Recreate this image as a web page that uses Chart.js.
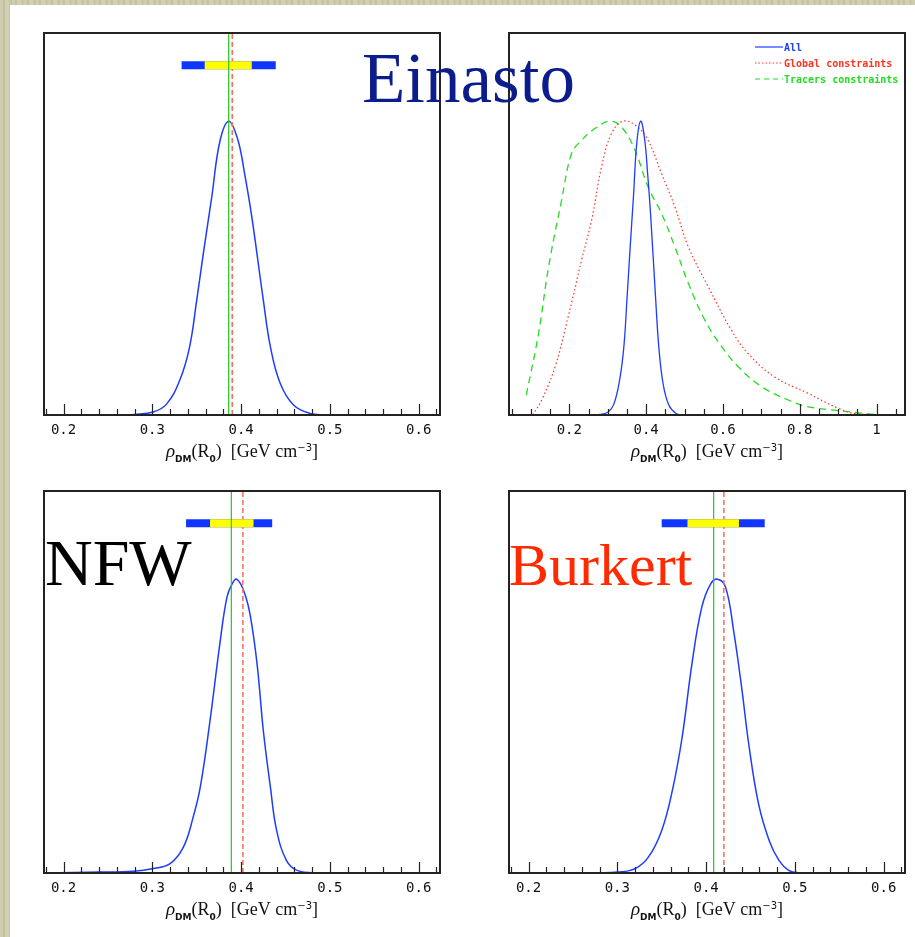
<!DOCTYPE html>
<html>
<head>
<meta charset="utf-8">
<script src="https://cdn.jsdelivr.net/npm/chart.js@4.4.0/dist/chart.umd.min.js"></script>
<style>
  body {
    margin: 0; width: 915px; height: 937px; position: relative; overflow: hidden;
    background: repeating-linear-gradient(90deg, #cfcdb0 0 3px, #c3c19f 3px 5px, #d2d0b4 5px 9px, #c8c6a5 9px 12px);
  }
  #sheet { position: absolute; left: 10px; top: 5px; right: 0; bottom: 0; background: #fff; }
  canvas { position: absolute; }
  .model { position: absolute; font-family: "Liberation Serif", serif; line-height: 1; white-space: nowrap; z-index: 2; }
</style>
</head>
<body>
<div id="sheet"></div>
<canvas id="einasto" width="458" height="470" style="left:0;top:0"></canvas>
<canvas id="compare" width="457" height="470" style="left:458px;top:0"></canvas>
<canvas id="nfw" width="458" height="470" style="left:0;top:458px"></canvas>
<canvas id="burkert" width="457" height="470" style="left:458px;top:458px"></canvas>
<div class="model" style="left:362px;top:43px;font-size:71px;color:#0b1c8c">Einasto</div>
<div class="model" style="left:45px;top:530px;font-size:66px;color:#000">NFW</div>
<div class="model" style="left:509px;top:535px;font-size:60px;color:#ff2a00">Burkert</div>
<script>
// local dark matter density rho_DM(R0) [GeV cm^-3], posteriors normalised to peak = 1

// Einasto, all constraints
const einastoX = [0.18, 0.26, 0.28, 0.301, 0.316, 0.331, 0.342, 0.350, 0.358, 0.367, 0.376, 0.386,
  0.396, 0.404, 0.412, 0.425, 0.433, 0.444, 0.459, 0.478, 0.495, 0.62];
const einastoY = [0, 0, 0.002, 0.01, 0.037, 0.119, 0.232, 0.391, 0.561, 0.743, 0.93, 1.0,
  0.94, 0.82, 0.675, 0.391, 0.232, 0.108, 0.034, 0.005, 0, 0];

// Einasto, global constraints only
const globalX = [0.105, 0.128, 0.163, 0.197, 0.232, 0.258, 0.284, 0.31, 0.34, 0.375, 0.405, 0.44,
  0.475, 0.51, 0.562, 0.622, 0.665, 0.734, 0.821, 0.9, 0.944, 1.03];
const globalY = [0, 0.051, 0.164, 0.334, 0.527, 0.663, 0.845, 0.958, 1.0, 0.983, 0.935, 0.822,
  0.708, 0.572, 0.436, 0.289, 0.21, 0.13, 0.074, 0.023, 0.005, 0];

// Einasto, tracers constraints only
const tracersX = [0.088, 0.12, 0.146, 0.18, 0.206, 0.232, 0.267, 0.306, 0.336, 0.371, 0.405, 0.44,
  0.475, 0.51, 0.553, 0.597, 0.64, 0.701, 0.77, 0.822, 0.9, 0.987, 1.03];
const tracersY = [0.068, 0.278, 0.504, 0.731, 0.89, 0.935, 0.975, 1.0, 0.98, 0.901, 0.776, 0.686,
  0.572, 0.448, 0.323, 0.232, 0.164, 0.096, 0.051, 0.028, 0.015, 0.003, 0];

// NFW
const nfwX = [0.18, 0.241, 0.279, 0.301, 0.32, 0.335, 0.346, 0.354, 0.365, 0.376, 0.384, 0.39,
  0.395, 0.403, 0.41, 0.418, 0.425, 0.433, 0.44, 0.451, 0.463, 0.485, 0.62];
const nfwY = [0, 0.003, 0.006, 0.015, 0.032, 0.088, 0.19, 0.292, 0.519, 0.779, 0.938, 0.985,
  1.0, 0.96, 0.881, 0.711, 0.485, 0.292, 0.145, 0.043, 0.009, 0.001, 0];

// Burkert
const burkertX = [0.18, 0.275, 0.301, 0.32, 0.335, 0.35, 0.362, 0.373, 0.384, 0.395, 0.405, 0.413,
  0.422, 0.431, 0.44, 0.448, 0.459, 0.471, 0.482, 0.493, 0.504, 0.53, 0.62];
const burkertY = [0, 0.001, 0.003, 0.015, 0.054, 0.145, 0.281, 0.462, 0.711, 0.903, 0.983, 1.0,
  0.972, 0.824, 0.632, 0.439, 0.236, 0.111, 0.043, 0.009, 0.001, 0, 0];

// summary per profile: [best fit, mean, 1 sigma lo, 1 sigma hi, 2 sigma lo, 2 sigma hi]
const einastoStats = [0.386, 0.390, 0.359, 0.412, 0.333, 0.439];
const nfwStats = [0.389, 0.402, 0.365, 0.414, 0.338, 0.435];
const burkertStats = [0.4085, 0.420, 0.379, 0.437, 0.350, 0.466];

const narrowTicks = [0.2, 0.3, 0.4, 0.5, 0.6];
const wideTicks = [0.2, 0.4, 0.6, 0.8, 1];

const Y_MAX = 1.3;
const BAND_Y = 1.19;

const curve = (xs, ys) => xs.map((x, i) => ({ x, y: ys[i] }));
const vline = v => [{ x: v, y: 0 }, { x: v, y: Y_MAX }];
const band = (lo, hi) => [{ x: lo, y: BAND_Y }, { x: hi, y: BAND_Y }];

// frame, inward ticks, axis title and the small legend
const panelDecor = {
  id: 'panelDecor',
  afterDraw(chart, args, opts) {
    const { ctx, chartArea: a, scales: { x } } = chart;
    ctx.save();
    ctx.strokeStyle = '#222';
    ctx.lineWidth = 1.2;
    const n = Math.round((opts.tickTo - opts.tickFrom) / opts.minor);
    for (let i = 0; i <= n; i++) {
      const v = opts.tickFrom + i * opts.minor;
      const r = v / opts.major;
      const major = Math.abs(r - Math.round(r)) < 1e-6;
      const px = Math.round(x.getPixelForValue(v)) + 0.5;
      ctx.beginPath();
      ctx.moveTo(px, a.bottom);
      ctx.lineTo(px, a.bottom - (major ? 11 : 6));
      ctx.stroke();
    }
    ctx.lineWidth = 2;
    ctx.strokeRect(a.left, a.top, a.right - a.left, a.bottom - a.top);

    // rho_DM(R_0) [GeV cm^-3]
    const parts = [
      ['italic 19px "Liberation Serif"', 'ρ', 0],
      ['bold 9px "DejaVu Sans"', 'DM', 5],
      ['18px "Liberation Serif"', '(R', 0],
      ['bold 9px "DejaVu Sans"', '0', 5],
      ['18px "Liberation Serif"', ')  [GeV cm', 0],
      ['10px "DejaVu Sans"', '−3', -6],
      ['18px "Liberation Serif"', ']', 0]
    ];
    let w = 0;
    for (const p of parts) { ctx.font = p[0]; w += ctx.measureText(p[1]).width; }
    let tx = (a.left + a.right) / 2 - w / 2;
    const base = a.bottom + 42;
    ctx.fillStyle = '#111';
    ctx.textBaseline = 'alphabetic';
    ctx.textAlign = 'left';
    for (const p of parts) {
      ctx.font = p[0];
      ctx.fillText(p[1], tx, base + p[2]);
      tx += ctx.measureText(p[1]).width;
    }

    if (opts.legend) {
      ctx.font = 'bold 10px "DejaVu Sans Mono"';
      ctx.textBaseline = 'middle';
      let row = 0;
      chart.data.datasets.forEach(ds => {
        if (!ds.label) return;
        const ly = a.top + 14 + row * 16;
        ctx.strokeStyle = ds.borderColor;
        ctx.lineWidth = 1.2;
        ctx.setLineDash(ds.legendDash || []);
        ctx.beginPath();
        ctx.moveTo(a.right - 150, ly);
        ctx.lineTo(a.right - 122, ly);
        ctx.stroke();
        ctx.setLineDash([]);
        ctx.fillStyle = ds.borderColor;
        ctx.fillText(ds.label, a.right - 121, ly + 1);
        row++;
      });
    }
    ctx.restore();
  }
};

function makePanel(id, range, ticks, minor, major, padding, datasets, legend) {
  return new Chart(document.getElementById(id), {
    type: 'line',
    data: { datasets },
    plugins: [panelDecor],
    options: {
      responsive: false,
      animation: false,
      events: [],
      layout: { padding },
      elements: { point: { radius: 0 }, line: { fill: false } },
      plugins: {
        legend: { display: false },
        tooltip: { enabled: false },
        panelDecor: { tickFrom: range[0] < 0.1 ? 0.05 : 0.18, tickTo: range[1], minor, major, legend }
      },
      scales: {
        x: {
          type: 'linear', min: range[0], max: range[1],
          grid: { display: false, drawTicks: false },
          border: { display: false },
          afterBuildTicks: s => { s.ticks = ticks.map(value => ({ value })); },
          afterFit: s => { s.height = 50; },
          ticks: {
            font: { family: 'DejaVu Sans Mono', size: 14 }, color: '#111', padding: 7,
            maxRotation: 0, autoSkip: false,
            callback: v => String(+Number(v).toFixed(2))
          }
        },
        y: { display: false, min: 0, max: Y_MAX }
      }
    }
  });
}

function profileSets(xs, ys, s, greenOnTop) {
  return [
    { data: vline(s[0]), borderColor: '#1ecc1e', borderWidth: 1.2, order: greenOnTop ? 0 : 3 },
    { data: band(s[2], s[3]), borderColor: '#ffff00', borderWidth: 8, order: 1 },
    { data: band(s[4], s[5]), borderColor: '#0f35ff', borderWidth: 8, order: 2 },
    { data: vline(s[1]), borderColor: '#ff6a55', borderWidth: 1.5, borderDash: [5, 3], order: 4 },
    { data: curve(xs, ys), borderColor: '#1e3cff', borderWidth: 1.5, tension: 0.4, order: 5 }
  ];
}

const narrowRange = [0.178, 0.624];
const wideRange = [0.043, 1.074];

makePanel('einasto', narrowRange, narrowTicks, 0.02, 0.1, { left: 44, top: 33, right: 18, bottom: 5 },
  profileSets(einastoX, einastoY, einastoStats, true), false);

makePanel('compare', wideRange, wideTicks, 0.05, 0.2, { left: 51, top: 33, right: 10, bottom: 5 }, [
  { label: 'All', data: curve(einastoX, einastoY), borderColor: '#1e3cff', borderWidth: 1.3,
    tension: 0.4, order: 0 },
  { label: 'Global constraints', data: curve(globalX, globalY), borderColor: '#ff3322', borderWidth: 1.2,
    borderDash: [1.5, 2.5], legendDash: [1.5, 2], tension: 0.4, order: 1 },
  { label: 'Tracers constraints', data: curve(tracersX, tracersY), borderColor: '#22dd22', borderWidth: 1.3,
    borderDash: [7, 5], legendDash: [5, 4], tension: 0.4, order: 2 }
], true);

makePanel('nfw', narrowRange, narrowTicks, 0.02, 0.1, { left: 44, top: 33, right: 18, bottom: 5 },
  profileSets(nfwX, nfwY, nfwStats, true), false);

makePanel('burkert', narrowRange, narrowTicks, 0.02, 0.1, { left: 51, top: 33, right: 10, bottom: 5 },
  profileSets(burkertX, burkertY, burkertStats, false), false);
</script>
</body>
</html>
